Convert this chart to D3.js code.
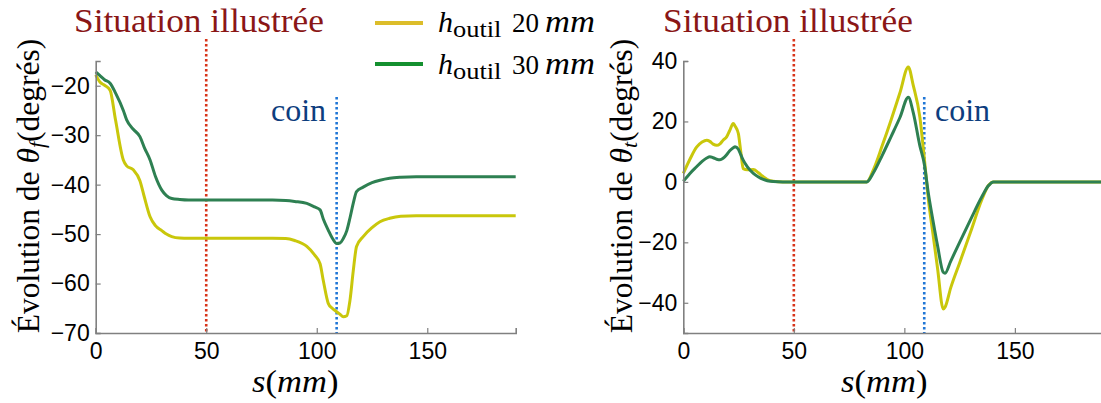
<!DOCTYPE html>
<html>
<head>
<meta charset="utf-8">
<script src="https://cdn.jsdelivr.net/npm/d3@7"></script>
<style>
body { margin: 0; background: #fff; }
svg text.serif, svg text.serif tspan { font-family: 'Liberation Serif', 'Times New Roman', serif !important; }
svg .tick text { font-family: 'Liberation Sans', Arial, sans-serif !important; font-size: 23px !important; }
</style>
</head>
<body>
<svg id="chart" width="1101" height="403" font-family="Liberation Serif"></svg>
<script>
// ---------------- DATA ----------------
const seriesNames = ["20 mm", "30 mm"];
// Left panel: theta_f (degrés) vs s (mm)
const sLeft = [0, 2, 4, 6.5, 9, 12.5, 14, 17, 20, 22, 24.6, 27, 29.9, 32, 34.4, 38, 42, 50, 60, 70, 80, 86, 90, 95.5, 99, 101.5, 103, 105.2, 107, 109, 110.5, 112, 113.6, 115, 116.5, 118, 121, 125, 128.6, 133, 138, 145, 160, 175, 190];
const thetaF20 = [-17.8, -19.3, -19.9, -20.9, -27, -35.0, -36.2, -37.0, -39.2, -42.5, -46.5, -48.3, -49.3, -50.0, -50.5, -50.8, -50.85, -50.85, -50.85, -50.85, -50.85, -50.9, -51.3, -52.5, -54.2, -56, -59.5, -64.0, -65.0, -65.7, -66.2, -66.7, -66.5, -63.5, -57.5, -52.5, -50.5, -48.7, -47.5, -46.8, -46.4, -46.3, -46.3, -46.3, -46.3];
const thetaF30 = [-17.2, -18.0, -18.8, -19.5, -21.5, -25, -26.9, -28.8, -30.3, -32.5, -35.0, -38.3, -41.1, -42.2, -42.8, -43.0, -43.1, -43.1, -43.1, -43.1, -43.1, -43.2, -43.4, -43.8, -44.5, -45.1, -47, -49.2, -50.8, -51.9, -51.8, -50.9, -49.3, -46.8, -43.8, -41.4, -40.5, -39.6, -39.1, -38.7, -38.5, -38.4, -38.4, -38.4, -38.4];
// Right panel: theta_t (degrés) vs s (mm)
const sRight = [0, 3, 6, 8.5, 10.6, 12, 13.5, 15.1, 16.6, 18, 19.6, 21, 22.6, 23.4, 24.9, 26, 27.1, 29, 31.7, 34, 36.2, 38, 40.7, 45, 60, 75, 83, 86, 90, 94, 98, 101.8, 104, 107, 109, 110.9, 113, 115, 117.6, 118.4, 121, 125, 130, 135, 138, 140.3, 150, 170, 190];
const thetaT20 = [2.8, 7.5, 11.5, 13.2, 13.8, 13.4, 12.5, 12.1, 12.6, 13.8, 14.9, 17, 19.3, 18.5, 16, 10, 4.4, 4.0, 4.1, 3.0, 1.7, 0.8, 0.2, 0, 0, 0, 0, 4, 12, 20.5, 29.5, 38, 32, 21.5, 8, -6, -17.5, -28.5, -42.1, -41.5, -35, -26.8, -16.5, -6, -1.2, 0, 0, 0, 0];
const thetaT30 = [0.2, 2.8, 5, 6.8, 7.9, 8.3, 8.0, 7.5, 7.3, 7.8, 9.0, 10.3, 11.3, 11.6, 10.8, 9.0, 7.2, 5.0, 2.8, 1.6, 0.8, 0.4, 0.1, 0, 0, 0, 0, 3, 8.8, 15, 21.3, 28, 23, 12, 6, -4, -13, -21, -29.9, -30.2, -26.2, -20, -12.4, -5, -1.3, 0, 0, 0, 0];
// ticks
const xTicks = [0, 50, 100, 150];
const yTicksLeft = [-70, -60, -50, -40, -30, -20];
const yTicksRight = [-40, -20, 0, 20, 40];
// annotations (s positions)
const situationS = 50;
const coinS = 109;

// ---------------- STYLE ----------------
const lineColors = ["#c9c70b", "#2e8052"];
const legendColors = ["#dcbd2a", "#14902f"];
const axisColor = "#808080";

const svg = d3.select("#chart");
const labelLayer = svg.append("g");
const plotLayer = svg.append("g");

function label(parent, x, y, sx, size, fill) {
  return parent.append("text").attr("class", "serif")
    .attr("transform", `translate(${x},${y}) scale(${sx},1)`)
    .style("font-family", "'Liberation Serif'").style("font-size", size + "px").attr("fill", fill);
}

function panel(cfg) {
  const x = d3.scaleLinear().domain([0, 190]).range([cfg.x0, cfg.x0 + 420]);
  const y = d3.scaleLinear().domain(cfg.yDomain).range([333, 61]);

  // texts
  label(labelLayer, cfg.sitX, 31.5, 1.07, 33, "#8a1616").text("Situation illustrée");
  label(labelLayer, cfg.coinX, 120.5, 1.0, 32, "#0d3d7e").text("coin");
  const xl = label(labelLayer, cfg.xlabX, 392, 1.08, 32, "#000");
  xl.append("tspan").style("font-style", "italic").text("s");
  xl.append("tspan").text("(");
  xl.append("tspan").style("font-style", "italic").text("mm");
  xl.append("tspan").text(")");
  const yl = labelLayer.append("text").attr("class", "serif")
    .attr("transform", `translate(${cfg.ylabX},186) rotate(-90)`)
    .attr("text-anchor", "middle")
    .style("font-family", "'Liberation Serif'").style("font-size", "31.5px").attr("fill", "#000");
  yl.append("tspan").text("Évolution de ");
  yl.append("tspan").style("font-style", "italic").text("θ");
  yl.append("tspan").style("font-style", "italic").style("font-size", "22px").attr("dy", 5).text(cfg.sub);
  yl.append("tspan").attr("dy", -5).text("(degrés)");

  const g = plotLayer.append("g");
  // vertical dotted markers
  g.append("line").attr("x1", x(situationS)).attr("x2", x(situationS))
    .attr("y1", 39).attr("y2", 333)
    .attr("stroke", "#d8341a").attr("stroke-width", 2.6).attr("stroke-dasharray", "2.5,2.5");
  g.append("line").attr("x1", x(coinS)).attr("x2", x(coinS))
    .attr("y1", 97).attr("y2", 333)
    .attr("stroke", "#1f76d6").attr("stroke-width", 2.6).attr("stroke-dasharray", "2.5,2.5");

  // lines
  const line = d3.line().x(d => x(d[0])).y(d => y(d[1])).curve(d3.curveMonotoneX);
  [cfg.v20, cfg.v30].forEach((vals, i) => {
    g.append("path").datum(cfg.s.map((s, k) => [s, vals[k]]))
      .attr("d", line).attr("fill", "none").attr("stroke", lineColors[i])
      .attr("stroke-width", 3).attr("stroke-linejoin", "round");
  });

  // axes
  const xAxis = d3.axisBottom(x).tickValues(xTicks).tickSize(-5).tickPadding(10)
    .tickFormat(d3.format("d"));
  const gx = g.append("g").attr("transform", "translate(0,333)").call(xAxis);
  const yAxis = d3.axisLeft(y).tickValues(cfg.yTicks).tickSize(-5).tickPadding(6)
    .tickFormat(d => d < 0 ? "\u2212" + Math.abs(d) : d);
  const gy = g.append("g").attr("transform", `translate(${cfg.x0},0)`).call(yAxis);
  [gx, gy].forEach(a => {
    a.attr("font-family", "Liberation Sans").attr("font-size", 23);
    a.select(".domain").attr("stroke", axisColor).attr("stroke-width", 1.6);
    a.selectAll(".tick line").attr("stroke", axisColor).attr("stroke-width", 1.2);
    a.selectAll(".tick text").attr("fill", "#000");
  });
  gx.selectAll(".tick text").attr("dy", "0.71em");
}

panel({x0: 95.7, yDomain: [-70, -15], yTicks: yTicksLeft, s: sLeft, v20: thetaF20, v30: thetaF30,
  sitX: 74, coinX: 271, xlabX: 252, ylabX: 39, sub: "f"});
panel({x0: 683.3, yDomain: [-50, 40], yTicks: yTicksRight, s: sRight, v20: thetaT20, v30: thetaT30,
  sitX: 663, coinX: 935, xlabX: 841, ylabX: 632, sub: "t"});

// legend
seriesNames.forEach((name, i) => {
  const yy = [23, 64][i];
  const by = [32, 74][i];
  plotLayer.append("line").attr("x1", 375).attr("x2", 423).attr("y1", yy).attr("y2", yy)
    .attr("stroke", legendColors[i]).attr("stroke-width", 4);
  const parts = name.split(" ");
  label(labelLayer, 438, by, 1.0, 30, "#000").style("font-style", "italic").text("h");
  label(labelLayer, 453, by + 5, 1.15, 23, "#000").text("outil");
  label(labelLayer, 512, by, 1.0, 27, "#000").text(parts[0]);
  label(labelLayer, 545, by, 1.08, 32, "#000").style("font-style", "italic").text(parts[1]);
});
</script>
</body>
</html>
